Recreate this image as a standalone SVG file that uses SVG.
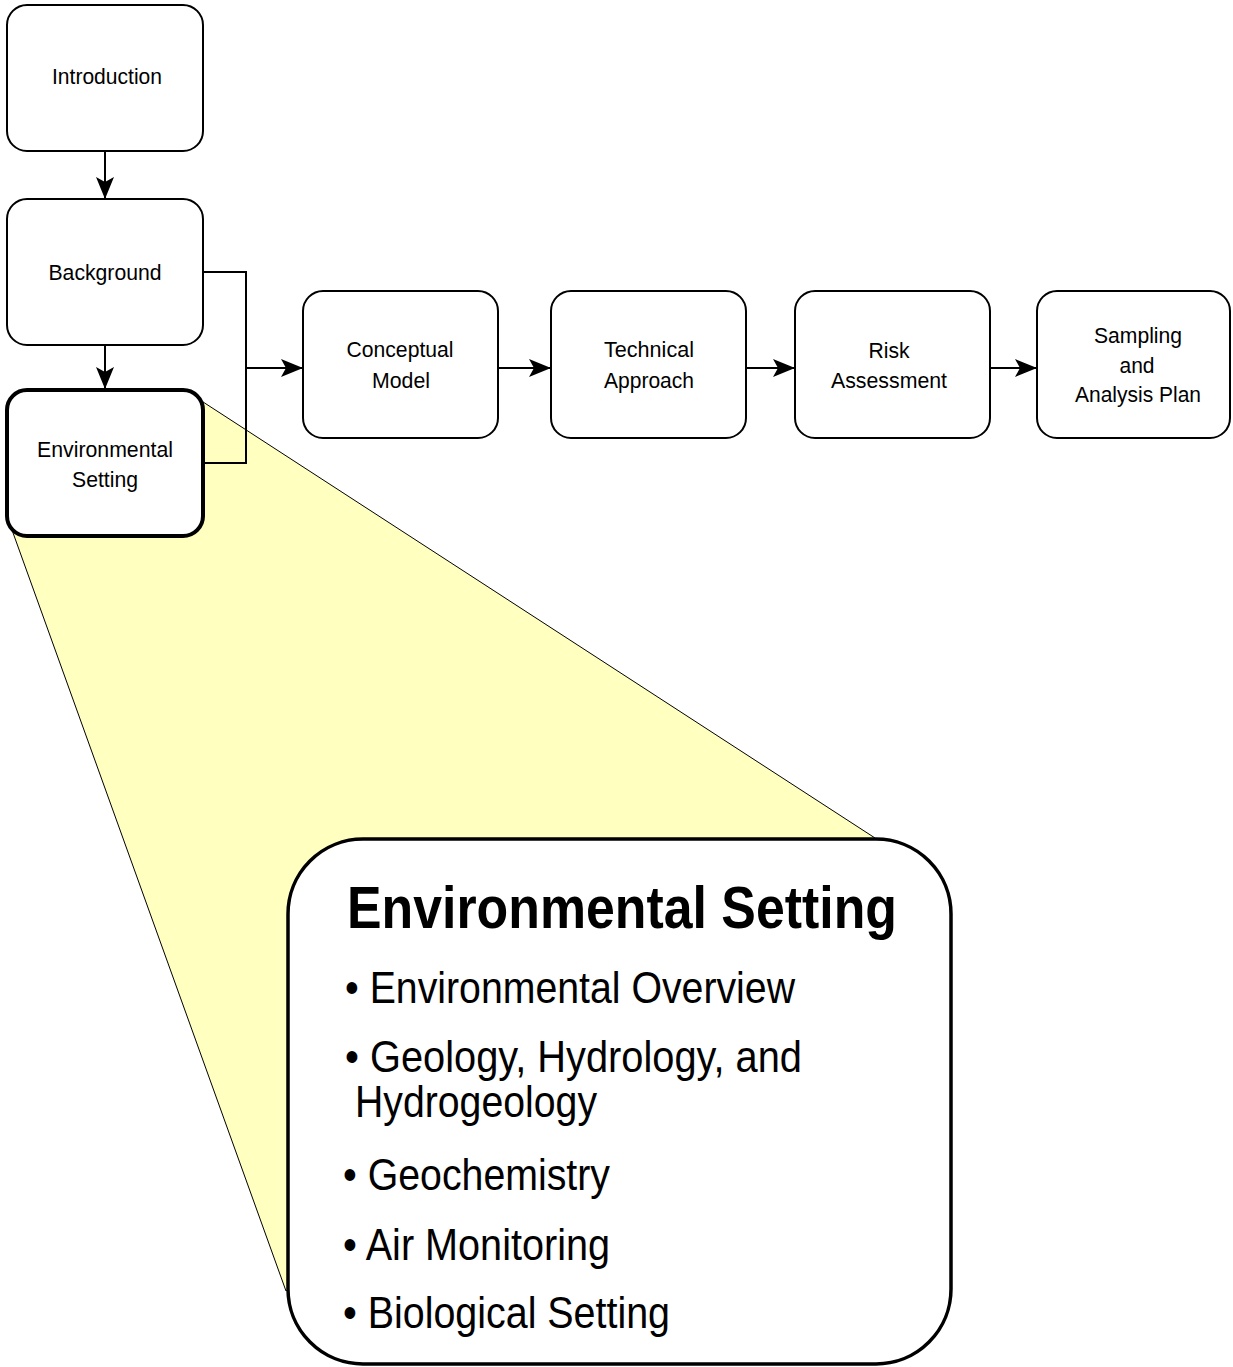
<svg xmlns="http://www.w3.org/2000/svg" width="1233" height="1367" viewBox="0 0 1233 1367">
<defs>
<style>
.node{fill:#ffffff;stroke:#000000;stroke-width:2}
.lbl{font-family:"Liberation Sans",Arial,Helvetica,sans-serif;font-size:22.5px;fill:#000000;text-anchor:middle}
.edge{fill:none;stroke:#000000;stroke-width:2}
.big{font-family:"Liberation Sans",Arial,Helvetica,sans-serif;font-size:45px;fill:#000000}
.title{font-family:"Liberation Sans",Arial,Helvetica,sans-serif;font-size:60px;font-weight:bold;fill:#000000}
</style>
<marker id="arr" viewBox="0 0 22 18" refX="21" refY="9" markerWidth="22" markerHeight="18" markerUnits="userSpaceOnUse" orient="auto">
<path d="M0,0 L22,9 L0,18 L5,9 Z" fill="#000000"/>
</marker>
</defs>
<rect width="1233" height="1367" fill="#ffffff"/>
<g id="zoom-callout">
<polygon points="200,400 875,838 286,1291 12,530" fill="#ffffc0" stroke="#000000" stroke-width="1"/>
</g>
<g id="connectors">
<line class="edge" x1="105" y1="151" x2="105" y2="198" marker-end="url(#arr)"/>
<line class="edge" x1="105" y1="345" x2="105" y2="388" marker-end="url(#arr)"/>
<polyline class="edge" points="203,272 246,272 246,463 205,463"/>
<line class="edge" x1="246" y1="368" x2="302" y2="368" marker-end="url(#arr)"/>
<line class="edge" x1="498" y1="368" x2="550" y2="368" marker-end="url(#arr)"/>
<line class="edge" x1="746" y1="368" x2="794" y2="368" marker-end="url(#arr)"/>
<line class="edge" x1="990" y1="368" x2="1036" y2="368" marker-end="url(#arr)"/>
</g>
<g id="introduction">
<rect class="node" x="7" y="5" width="196" height="146" rx="20" ry="20"/>
<text class="lbl" x="107" y="84" textLength="110" lengthAdjust="spacingAndGlyphs">Introduction</text>
</g>
<g id="background">
<rect class="node" x="7" y="199" width="196" height="146" rx="20" ry="20"/>
<text class="lbl" x="105" y="280" textLength="113" lengthAdjust="spacingAndGlyphs">Background</text>
</g>
<g id="environmental-setting">
<rect class="node" x="7" y="390" width="196" height="146" rx="20" ry="20" style="stroke-width:4"/>
<text class="lbl" x="105" y="457" textLength="136" lengthAdjust="spacingAndGlyphs">Environmental</text>
<text class="lbl" x="105" y="487" textLength="66" lengthAdjust="spacingAndGlyphs">Setting</text>
</g>
<g id="conceptual-model">
<rect class="node" x="303" y="291" width="195" height="147" rx="20" ry="20"/>
<text class="lbl" x="400" y="357" textLength="107" lengthAdjust="spacingAndGlyphs">Conceptual</text>
<text class="lbl" x="401" y="388" textLength="58" lengthAdjust="spacingAndGlyphs">Model</text>
</g>
<g id="technical-approach">
<rect class="node" x="551" y="291" width="195" height="147" rx="20" ry="20"/>
<text class="lbl" x="649" y="357" textLength="90" lengthAdjust="spacingAndGlyphs">Technical</text>
<text class="lbl" x="649" y="388" textLength="90" lengthAdjust="spacingAndGlyphs">Approach</text>
</g>
<g id="risk-assessment">
<rect class="node" x="795" y="291" width="195" height="147" rx="20" ry="20"/>
<text class="lbl" x="889" y="358" textLength="41" lengthAdjust="spacingAndGlyphs">Risk</text>
<text class="lbl" x="889" y="388" textLength="116" lengthAdjust="spacingAndGlyphs">Assessment</text>
</g>
<g id="sampling-analysis-plan">
<rect class="node" x="1037" y="291" width="193" height="147" rx="20" ry="20"/>
<text class="lbl" x="1138" y="343" textLength="88" lengthAdjust="spacingAndGlyphs">Sampling</text>
<text class="lbl" x="1137" y="373" textLength="35" lengthAdjust="spacingAndGlyphs">and</text>
<text class="lbl" x="1138" y="402" textLength="126" lengthAdjust="spacingAndGlyphs">Analysis Plan</text>
</g>
<g id="environmental-setting-detail">
<rect x="288" y="839" width="663" height="525" rx="75" ry="75" fill="#ffffff" stroke="#000000" stroke-width="3.5"/>
<text class="title" x="347" y="928" textLength="550" lengthAdjust="spacingAndGlyphs">Environmental Setting</text>
<text class="big" x="345" y="1003" textLength="450" lengthAdjust="spacingAndGlyphs">• Environmental Overview</text>
<text class="big" x="345" y="1072" textLength="457" lengthAdjust="spacingAndGlyphs">• Geology, Hydrology, and</text>
<text class="big" x="355" y="1117" textLength="242" lengthAdjust="spacingAndGlyphs">Hydrogeology</text>
<text class="big" x="343" y="1190" textLength="267" lengthAdjust="spacingAndGlyphs">• Geochemistry</text>
<text class="big" x="343" y="1260" textLength="267" lengthAdjust="spacingAndGlyphs">• Air Monitoring</text>
<text class="big" x="343" y="1328" textLength="327" lengthAdjust="spacingAndGlyphs">• Biological Setting</text>
</g>
</svg>
